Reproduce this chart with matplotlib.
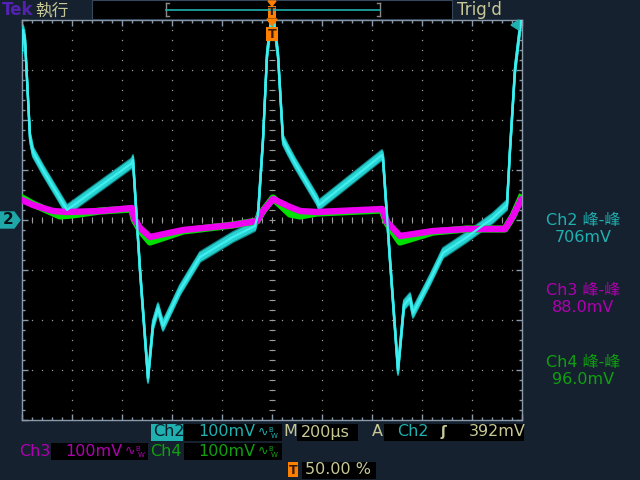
import numpy as np
import matplotlib
matplotlib.use('Agg')
import matplotlib.pyplot as plt
from matplotlib.patches import Rectangle, Polygon

plt.rcParams['font.family'] = ['DejaVu Sans', 'Noto Sans CJK JP']

# time in us from trigger, level in mV from screen centre (100 mV/div)
ch2_t = [-1000, -996, -988, -968, -956, -916, -868, -820, -560, -556,
         -528, -496, -476, -456, -436, -368, -288, -156, -68, -56,
         -36, -20, -4, 8, 24, 44, 64, 92, 180, 188,
         440, 444, 472, 504, 528, 552, 564, 632, 684, 780,
         884, 940, 952, 972, 996]
ch2_v = [340, 380, 360, 166, 136, 100, 60, 20, 114, 120,
         -100, -316, -210, -176, -212, -140, -74, -34, -12, 10,
         160, 330, 396, 396, 330, 160, 140, 114, 40, 30,
         130, 124, -80, -300, -170, -156, -186, -120, -66, -34,
         4, 30, 140, 300, 400]

ch3_t = [-1000, -956, -876, -820, -688, -560, -552, -528, -488, -356,
         -156, -60, -36, 4, 72, 112, 180, 440, 460, 512,
         644, 780, 932, 964, 996]
ch3_v = [40, 30, 18, 16, 18, 24, 4, -16, -34, -20,
         -10, -2, 18, 42, 26, 18, 16, 22, -4, -32,
         -22, -18, -18, 8, 40]

ch4_t = [-1000, -956, -848, -800, -688, -560, -552, -528, -488, -356,
         -156, -60, -36, 4, 72, 112, 180, 440, 460, 512,
         644, 780, 932, 964, 996]
ch4_v = [44, 32, 8, 10, 18, 22, 2, -20, -44, -22,
         -10, -2, 18, 44, 12, 8, 14, 20, -6, -44,
         -24, -18, -18, 8, 44]

meas_labels = ['Ch2 峰-峰', 'Ch3 峰-峰', 'Ch4 峰-峰']
meas_values = ['706mV', '88.0mV', '96.0mV']

NAVY = '#15212f'
TEAL = '#1fb0b0'
CYAN = '#40f0f0'
MAG = '#f000f0'
GRN = '#00e000'
KHAKI = '#c8c896'
GRID = '#9a9a9a'

fig = plt.figure(figsize=(6.4, 4.8), dpi=100, facecolor=NAVY)

# graticule
ax = fig.add_axes([22/640, 60/480, 500/640, 400/480])
ax.set_facecolor('black')
ax.set_xlim(-1000, 1000)
ax.set_ylim(-400, 400)
ax.set_xticks(np.arange(-1000, 1001, 200))
ax.set_yticks(np.arange(-400, 401, 100))
ax.set_xticks(np.arange(-1000, 1001, 40), minor=True)
ax.set_yticks(np.arange(-400, 401, 20), minor=True)
ax.tick_params(which='both', direction='in', top=True, right=True,
               labelbottom=False, labelleft=False, color='#8a9aaa')
ax.tick_params(which='major', length=4, width=1)
ax.tick_params(which='minor', length=2, width=1)
for s in ax.spines.values():
    s.set_color('#8a9aaa')
    s.set_linewidth(1)

dots_y = np.arange(-400, 401, 20)
dots_x = np.arange(-1000, 1001, 40)
for gx in range(-800, 1000, 200):
    ax.plot([gx] * len(dots_y), dots_y, ls='none', marker='s', ms=0.9,
            mew=0, color=GRID, zorder=1)
for gy in range(-300, 400, 100):
    ax.plot(dots_x, [gy] * len(dots_x), ls='none', marker='s', ms=0.9,
            mew=0, color=GRID, zorder=1)
# centre cross ticks
ax.plot(dots_x, [0] * len(dots_x), ls='none', marker='|', ms=4, mew=0.8,
        color=GRID, zorder=1)
ax.plot([0] * len(dots_y), dots_y, ls='none', marker='_', ms=4, mew=0.8,
        color=GRID, zorder=1)

# waveforms (persistence band)
t2 = np.array(ch2_t)
v2 = np.array(ch2_v)
for off in [-10, 10]:
    ax.plot(t2, v2 + off, color='#109898', lw=1.4, alpha=0.9, zorder=2)
for off in [-7, -3.5, 3.5, 7]:
    ax.plot(t2, v2 + off, color='#26d2d2', lw=1.5, zorder=3)
ax.plot(t2, v2, color=CYAN, lw=1.6, zorder=6)

ax.plot(ch4_t, ch4_v, color=GRN, lw=5.2, zorder=4, solid_joinstyle='round')
ax.plot(ch3_t, ch3_v, color=MAG, lw=4.6, zorder=5, solid_joinstyle='round')

# overlay for the scope's text and markers, in pixel coords
ov = fig.add_axes([0, 0, 1, 1], zorder=10)
ov.set_xlim(0, 640)
ov.set_ylim(480, 0)
ov.axis('off')
ov.patch.set_alpha(0)


def box(x0, y0, x1, y1, fc='black', ec='none'):
    ov.add_patch(Rectangle((x0, y0), x1 - x0, y1 - y0, fc=fc, ec=ec, lw=0.8))


def txt(x, y, s, c, size=11, ha='left', **kw):
    ov.text(x, y, s, color=c, fontsize=size, ha=ha, va='center', **kw)


def bw(x, y, c):
    txt(x, y, '∿', c, size=9)
    txt(x + 10, y - 2, 'B', c, size=5)
    txt(x + 13, y + 4, 'W', c, size=5)


# top bar
txt(2, 10, 'Tek', '#5222b0', size=12, fontweight='bold')
txt(35, 10, '執行', KHAKI, size=12)
box(92, 0, 452, 19, ec='#35475a')
for bx, d in [(166, 3), (380, -3)]:
    ov.plot([bx, bx], [3, 16], color='#8a8a8a', lw=1)
    ov.plot([bx, bx + d], [3, 3], color='#8a8a8a', lw=1)
    ov.plot([bx, bx + d], [16, 16], color='#8a8a8a', lw=1)
ov.plot([166, 380], [10, 10], color=TEAL, lw=1.2)
ov.add_patch(Polygon([(268, 1), (276, 1), (272, 6)], color='#ff7f00'))
box(268, 6, 276, 18, fc='#ff7f00')
txt(272, 12, 'T', '#202020', size=8, ha='center', fontweight='bold')
txt(457, 10, "Trig'd", KHAKI, size=12)

# trigger markers on graticule
ov.add_patch(Polygon([(267, 19), (277, 19), (272, 26)], color='#ff7f00'))
box(266, 27, 278, 41, fc='#ff7f00')
txt(272, 34, 'T', '#3a1a00', size=9, ha='center', fontweight='bold')
ov.add_patch(Polygon([(511, 25), (519, 20), (519, 30)], color=TEAL))

# channel 2 ground marker
ov.add_patch(Polygon([(0, 212), (14, 212), (20, 220), (14, 228), (0, 228)],
                     color='#20a8a8'))
txt(8, 220, '2', '#061016', size=11, ha='center', fontweight='bold')

# measurements
meas_colors = [TEAL, '#b000b0', '#10a010']
meas_y = [220, 291, 362]
for lab, val, c, y in zip(meas_labels, meas_values, meas_colors, meas_y):
    txt(583, y, lab, c, size=11.5, ha='center')
    txt(583, y + 17, val, c, size=11.5, ha='center')

# bottom status rows
box(151, 424, 183, 441, fc='#20b0b0')
txt(153, 432, 'Ch2', '#0b1a26', size=11.5)
box(184, 424, 282, 441)
txt(198, 432, '100mV', TEAL, size=11.5)
bw(258, 432, TEAL)
txt(283, 432, 'M', KHAKI, size=11.5)
box(297, 424, 358, 441)
txt(301, 432, '200µs', KHAKI, size=11.5)
txt(372, 432, 'A', KHAKI, size=11.5)
box(384, 424, 524, 441)
txt(397, 432, 'Ch2', TEAL, size=11.5)
txt(440, 432, 'ʃ', KHAKI, size=10, fontweight='bold')
txt(469, 432, '392mV', KHAKI, size=11.5)

txt(19, 451, 'Ch3', '#b000b0', size=11.5)
box(51, 443, 148, 460)
txt(65, 451, '100mV', '#b000b0', size=11.5)
bw(125, 451, '#b000b0')
txt(150, 451, 'Ch4', '#10a010', size=11.5)
box(184, 443, 282, 460)
txt(198, 451, '100mV', '#10a010', size=11.5)
bw(258, 451, '#10a010')

box(288, 462, 298, 477, fc='#ff7f00')
txt(293, 470, 'T', '#3a1a00', size=9, ha='center', fontweight='bold')
box(302, 462, 376, 479)
txt(305, 470, '50.00 %', KHAKI, size=11.5)

fig.savefig('out.png', dpi=100, facecolor=NAVY)
